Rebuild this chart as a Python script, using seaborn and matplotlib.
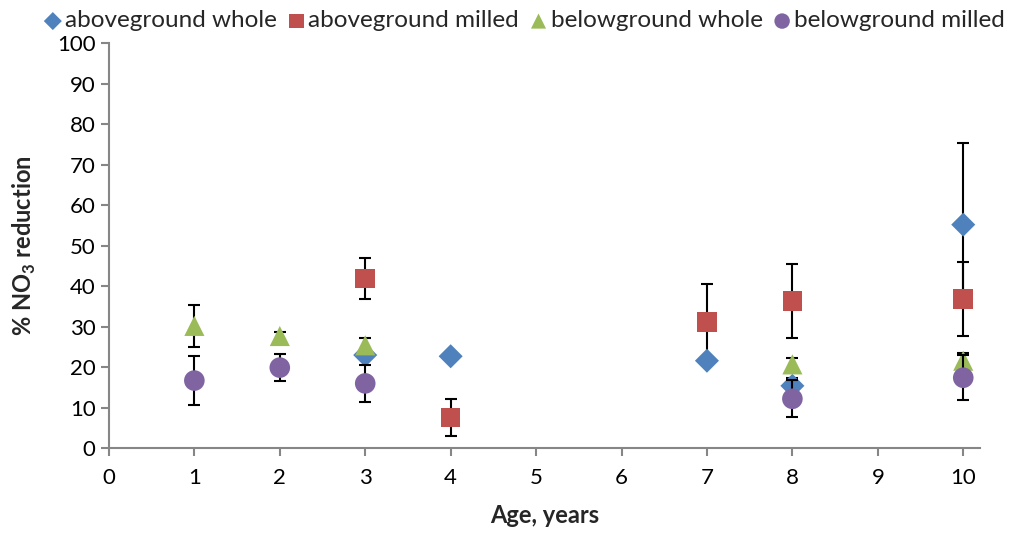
import matplotlib
matplotlib.use("Agg")
import matplotlib.pyplot as plt
import seaborn as sns

# Data
series_names = ["aboveground whole", "aboveground milled", "belowground whole", "belowground milled"]

ag_whole_age = [3, 4, 7, 8, 10]
ag_whole_val = [23.0, 22.7, 21.6, 15.4, 55.2]
ag_whole_err = [1.0, 0.0, 0.0, 2.0, 20.2]

ag_milled_age = [3, 4, 7, 8, 10]
ag_milled_val = [41.9, 7.6, 31.1, 36.3, 36.8]
ag_milled_err = [5.1, 4.6, 9.5, 9.1, 9.2]

bg_whole_age = [1, 2, 3, 8, 10]
bg_whole_val = [30.2, 27.7, 25.4, 20.7, 21.6]
bg_whole_err = [5.1, 1.0, 1.9, 1.5, 1.9]

bg_milled_age = [1, 2, 3, 8, 10]
bg_milled_val = [16.7, 19.9, 16.0, 12.2, 17.4]
bg_milled_err = [6.0, 3.4, 4.6, 4.6, 5.6]

x_ticks = [0, 1, 2, 3, 4, 5, 6, 7, 8, 9, 10]
y_ticks = [0, 10, 20, 30, 40, 50, 60, 70, 80, 90, 100]

# Style
sns.set_theme(style="ticks")
plt.rcParams['font.family'] = ['Lato', 'DejaVu Sans']
plt.rcParams['mathtext.fontset'] = 'custom'
plt.rcParams['mathtext.bf'] = 'Lato:bold'
plt.rcParams['mathtext.rm'] = 'Lato'

colors = ["#4F81BD", "#C0504D", "#9BBB59", "#8064A2"]
markers = ["D", "s", "^", "o"]
sizes = [150, 200, 210, 220]
axis_grey = "#868686"

# drawing order: error bars of the aboveground series sit under the diamonds
err_z = [2, 2.5, 5, 7]
mark_z = [3, 4, 6, 8]

fig = plt.figure(figsize=(10.18, 5.4), dpi=100)
ax = fig.add_axes([0.107, 0.170, 0.856, 0.750])

all_series = [
    (ag_whole_age, ag_whole_val, ag_whole_err),
    (ag_milled_age, ag_milled_val, ag_milled_err),
    (bg_whole_age, bg_whole_val, bg_whole_err),
    (bg_milled_age, bg_milled_val, bg_milled_err),
]

for i, (ages, vals, errs) in enumerate(all_series):
    ax.errorbar(ages, vals, yerr=errs, fmt='none', ecolor='black',
                elinewidth=1.5, capsize=4.3, capthick=1.5, zorder=err_z[i])
    sns.scatterplot(x=ages, y=vals, ax=ax, marker=markers[i], color=colors[i],
                    s=sizes[i], edgecolor='none', label=series_names[i],
                    zorder=mark_z[i])

# Axes
ax.set_xlim(0, 10.2)
ax.set_ylim(0, 100)
ax.set_xticks(x_ticks)
ax.set_yticks(y_ticks)
ax.tick_params(axis='both', colors=axis_grey, labelcolor='black', labelsize=16,
               length=6, width=1.5)
ax.tick_params(axis='x', pad=8)
for side in ['top', 'right']:
    ax.spines[side].set_visible(False)
for side in ['left', 'bottom']:
    ax.spines[side].set_color(axis_grey)
    ax.spines[side].set_linewidth(1.5)

ax.set_xlabel("Age, years", fontsize=17, fontweight='bold', labelpad=12)
ax.set_ylabel(r"% NO$_\mathbf{3}$ reduction", fontsize=17, fontweight='bold', labelpad=14)

sns.move_legend(ax, "lower center", bbox_to_anchor=(0.475, 1.005), ncol=4,
                frameon=False, title=None, fontsize=17.5, handletextpad=0.0,
                columnspacing=0.3, borderaxespad=0.0, markerscale=0.75,
                handlelength=1.0)

fig.savefig("out.png", dpi=100)
